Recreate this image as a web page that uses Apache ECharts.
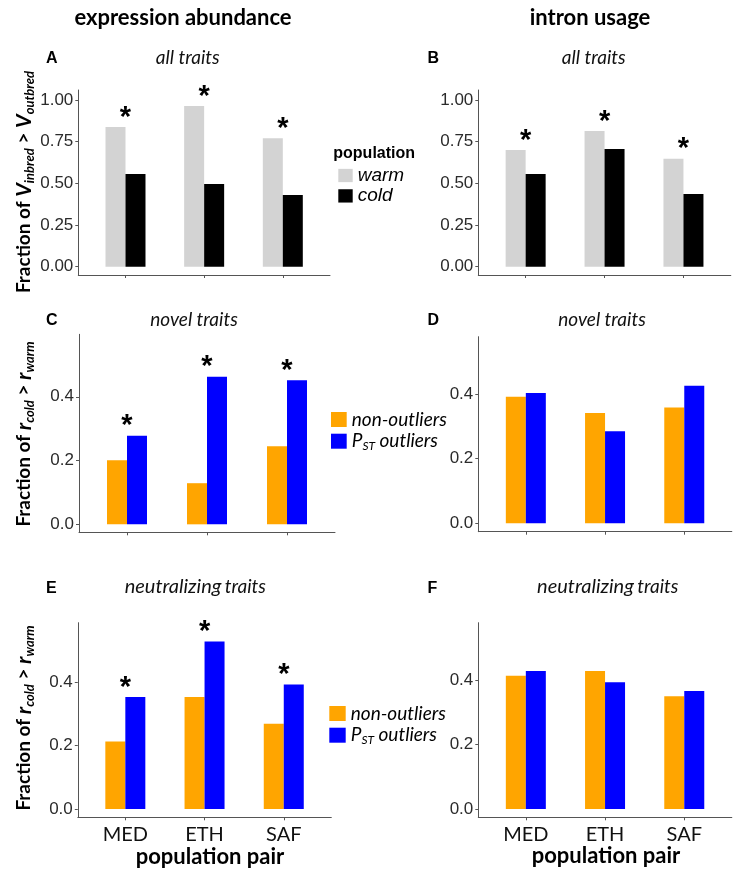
<!DOCTYPE html>
<html><head><meta charset="utf-8">
<script src="https://cdn.jsdelivr.net/npm/echarts@6/dist/echarts.min.js"></script>
<style>html,body{margin:0;padding:0;background:#fff}#c{width:740px;height:878px}</style>
</head><body><div id="c"></div>
<script>
// ---- data ----
const pairs = ['MED', 'ETH', 'SAF'];
const exprAllWarm = [0.838, 0.964, 0.770];
const exprAllCold = [0.556, 0.496, 0.430];
const intronAllWarm = [0.700, 0.814, 0.648];
const intronAllCold = [0.556, 0.706, 0.436];
const exprNovelNon = [0.201, 0.129, 0.245];
const exprNovelPst = [0.278, 0.463, 0.452];
const intronNovelNon = [0.392, 0.342, 0.359];
const intronNovelPst = [0.404, 0.285, 0.426];
const exprNeutNon = [0.212, 0.352, 0.268];
const exprNeutPst = [0.352, 0.527, 0.392];
const intronNeutNon = [0.413, 0.428, 0.350];
const intronNeutPst = [0.428, 0.393, 0.366];
const sigA = [true, true, true];
const sigB = [true, true, true];
const sigC = [true, true, true];
const sigD = [false, false, false];
const sigE = [true, true, true];
const sigF = [false, false, false];
const ticksAll = [0, 0.25, 0.5, 0.75, 1.0];
const ticksFrac = [0, 0.2, 0.4];

// ---- styling ----
const AX = '#555';
const SANS = 'Liberation Sans';
const HUM = 'Lato';
const colWarm = '#D3D3D3', colCold = '#000000', colNon = '#FFA500', colPst = '#0000FF';

const panels = [
  {grid: {left: 78.3, top: 90, width: 251.7, height: 185}, yMin: -0.05, yMax: 1.06, ticks: ticksAll, dec: 2, showX: false,
   s: [['warm', exprAllWarm, colWarm, sigA, 10], ['cold', exprAllCold, colCold, null, 0]]},
  {grid: {left: 478.3, top: 90, width: 252.5, height: 185}, yMin: -0.05, yMax: 1.06, ticks: ticksAll, dec: 2, showX: false,
   s: [['warm', intronAllWarm, colWarm, sigB, 10], ['cold', intronAllCold, colCold, null, 0]]},
  {grid: {left: 79, top: 334.3, width: 256, height: 198}, yMin: -0.025, yMax: 0.596, ticks: ticksFrac, dec: 1, showX: false,
   s: [['non-outliers', exprNovelNon, colNon, null, 0], ['P_ST outliers', exprNovelPst, colPst, sigC, -10]]},
  {grid: {left: 478.3, top: 336.7, width: 253.5, height: 195}, yMin: -0.026, yMax: 0.578, ticks: ticksFrac, dec: 1, showX: false,
   s: [['non-outliers', intronNovelNon, colNon, null, 0], ['P_ST outliers', intronNovelPst, colPst, sigD, -10]]},
  {grid: {left: 77.8, top: 622.7, width: 253.5, height: 194.6}, yMin: -0.026, yMax: 0.586, ticks: ticksFrac, dec: 1, showX: true,
   s: [['non-outliers', exprNeutNon, colNon, null, 0], ['P_ST outliers', exprNeutPst, colPst, sigE, -10]]},
  {grid: {left: 478.3, top: 622.7, width: 253.5, height: 194.6}, yMin: -0.026, yMax: 0.578, ticks: ticksFrac, dec: 1, showX: true,
   s: [['non-outliers', intronNeutNon, colNon, null, 0], ['P_ST outliers', intronNeutPst, colPst, sigF, -10]]}
];

const grids = [], xAxes = [], yAxes = [], series = [];
panels.forEach((p, i) => {
  grids.push(Object.assign({containLabel: false}, p.grid));
  xAxes.push({
    type: 'value', gridIndex: i, min: 0.4, max: 3.6,
    splitLine: {show: false},
    axisLine: {show: true, onZero: false, lineStyle: {color: AX, width: 1}},
    axisTick: {show: true, customValues: [1, 2, 3], length: 3, lineStyle: {color: AX}},
    axisLabel: {show: p.showX, customValues: [1, 2, 3], formatter: v => pairs[Math.round(v) - 1] || '',
      fontFamily: HUM, fontSize: 20, color: '#111', margin: 7}
  });
  yAxes.push({
    type: 'value', gridIndex: i, min: p.yMin, max: p.yMax,
    splitLine: {show: false},
    axisLine: {show: true, onZero: false, lineStyle: {color: AX, width: 1}},
    axisTick: {show: true, customValues: p.ticks, length: 3, lineStyle: {color: AX}},
    axisLabel: {customValues: p.ticks, formatter: v => Number(v).toFixed(p.dec),
      fontFamily: SANS, fontSize: 17, color: '#2b2b2b', margin: 5}
  });
  p.s.forEach(([name, vals, color, sig, off]) => {
    series.push({
      type: 'bar', name: name, xAxisIndex: i, yAxisIndex: i,
      data: vals.map((v, k) => [k + 1, v]),
      barWidth: 20, barGap: '0%',
      itemStyle: {color: color},
      label: {
        show: !!sig, position: 'top', distance: -5, offset: [off, 0],
        formatter: q => (sig && sig[q.dataIndex]) ? '*' : '',
        fontFamily: SANS, fontWeight: 'bold', fontSize: 29, color: '#000'
      }
    });
  });
});

function txt(x, y, text, font, extra) {
  return Object.assign({type: 'text', x: x, y: y, silent: true,
    style: {text: text, font: font, fill: '#000', textAlign: 'center', textVerticalAlign: 'middle', align: 'center', verticalAlign: 'middle'}}, extra || {});
}
const yTitleRich = {
  b: {fontFamily: HUM, fontWeight: 'bold', fontSize: 19, color: '#000', verticalAlign: 'middle'},
  v: {fontFamily: HUM, fontWeight: 'bold', fontStyle: 'italic', fontSize: 21, color: '#000', verticalAlign: 'middle'},
  s: {fontFamily: HUM, fontWeight: 'bold', fontStyle: 'italic', fontSize: 13, color: '#000', verticalAlign: 'middle', padding: [11, 0, 0, 0]}
};
function yTitle(x, y, text) {
  return {type: 'text', x: x, y: y, rotation: Math.PI / 2, silent: true,
    style: {text: text, rich: yTitleRich, fill: '#000', textAlign: 'center', textVerticalAlign: 'middle', align: 'center', verticalAlign: 'middle'}};
}
const subRich = {
  a: {fontFamily: HUM, fontStyle: 'italic', fontSize: 20, color: '#111', verticalAlign: 'middle'},
  b: {fontFamily: HUM, fontStyle: 'italic', fontSize: 19, color: '#111', verticalAlign: 'middle'}
};
function sub(x, y, text) {
  return {type: 'text', x: x, y: y, silent: true,
    style: {text: text, rich: subRich, fill: '#111', textAlign: 'center', textVerticalAlign: 'middle', align: 'center', verticalAlign: 'middle'}};
}

const LET = 'bold 16px "Liberation Sans"';
const graphic = [
  txt(183, 18.3, 'expression abundance', 'bold 22px Lato'),
  txt(590, 18, 'intron usage', 'bold 22px Lato'),
  txt(51.7, 58.3, 'A', LET),
  txt(433.3, 58.3, 'B', LET),
  txt(51.7, 320.7, 'C', LET),
  txt(433.3, 320.7, 'D', LET),
  txt(51.3, 588.3, 'E', LET),
  txt(432.3, 588.3, 'F', LET),
  sub(187.7, 58.3, '{b|all traits}'),
  sub(593.7, 58.3, '{b|all traits}'),
  sub(194, 320, '{b|novel traits}'),
  sub(602, 320, '{b|novel traits}'),
  sub(195.3, 586.7, '{a|neutralizing} {b|traits}'),
  sub(607.7, 586.7, '{a|neutralizing} {b|traits}'),
  yTitle(24, 182, '{b|Fraction of }{v|V}{s|inbred}{b| > }{v|V}{s|outbred}'),
  yTitle(24, 434, '{b|Fraction of }{v|r}{s|cold}{b| > }{v|r}{s|warm}'),
  yTitle(24, 718, '{b|Fraction of }{v|r}{s|cold}{b| > }{v|r}{s|warm}'),
  txt(210, 856.5, 'population pair', 'bold 22px Lato'),
  txt(606, 855.5, 'population pair', 'bold 22px Lato'),
  {type: 'text', x: 333.3, y: 153.3, silent: true,
   style: {text: 'population', font: 'bold 16px "Liberation Sans"', fill: '#000', textAlign: 'left', textVerticalAlign: 'middle', align: 'left', verticalAlign: 'middle'}}
];

const legRich = {
  i: {fontFamily: HUM, fontStyle: 'italic', fontSize: 19, color: '#000', lineHeight: 15, verticalAlign: 'middle'},
  s: {fontFamily: HUM, fontStyle: 'italic', fontSize: 12, color: '#000', lineHeight: 15, verticalAlign: 'middle', padding: [9, 0, 0, 0]}
};
const legFmt = n => n === 'P_ST outliers' ? '{i|P}{s|ST}{i| outliers}' : '{i|' + n + '}';

const legend = [
  {data: ['warm', 'cold'], left: 338.3, top: 166, orient: 'vertical', padding: 0,
   itemWidth: 14.4, itemHeight: 13.3, itemGap: 1.4, icon: 'rect', selectedMode: false,
   textStyle: {fontFamily: SANS, fontStyle: 'italic', fontSize: 19, lineHeight: 13.3, color: '#000'}},
  {data: ['non-outliers', 'P_ST outliers'], left: 331, top: 410, orient: 'vertical', padding: 0,
   itemWidth: 15.7, itemHeight: 15, itemGap: 1.7, icon: 'rect', selectedMode: false,
   formatter: legFmt, textStyle: {rich: legRich, lineHeight: 15}},
  {data: ['non-outliers', 'P_ST outliers'], left: 329.3, top: 704, orient: 'vertical', padding: 0,
   itemWidth: 16.4, itemHeight: 15, itemGap: 1.7, icon: 'rect', selectedMode: false,
   formatter: legFmt, textStyle: {rich: legRich, lineHeight: 15}}
];

const chart = echarts.init(document.getElementById('c'), null, {renderer: 'canvas'});
chart.setOption({
  animation: false,
  backgroundColor: '#fff',
  grid: grids, xAxis: xAxes, yAxis: yAxes, series: series,
  legend: legend, graphic: graphic
});
</script></body></html>
